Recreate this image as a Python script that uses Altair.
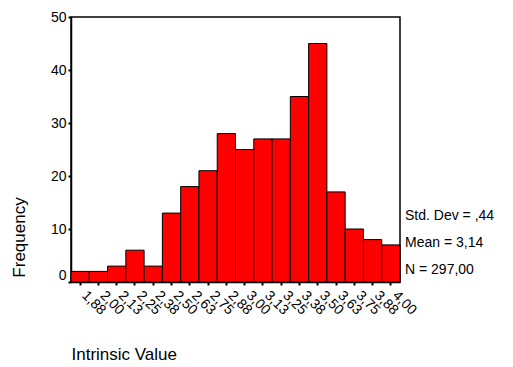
import altair as alt
import pandas as pd

bins = ["1,88", "2,00", "2,13", "2,25", "2,38", "2,50", "2,63", "2,75", "2,88",
        "3,00", "3,13", "3,25", "3,38", "3,50", "3,63", "3,75", "3,88", "4,00"]
counts = [2, 2, 3, 6, 3, 13, 18, 21, 28, 25, 27, 27, 35, 45, 17, 10, 8, 7]
stats = ["Std. Dev = ,44", "Mean = 3,14", "N = 297,00"]

df = pd.DataFrame({"bin": bins, "count": counts})
FONT = "Liberation Sans"

bars = alt.Chart(df).mark_bar(color="#ff0000", stroke="black", strokeWidth=1).encode(
    x=alt.X("bin:N", sort=bins,
            scale=alt.Scale(paddingInner=0, paddingOuter=0),
            axis=alt.Axis(title="Intrinsic Value", labelAngle=45, labelAlign="left",
                          labelBaseline="middle", labelPadding=8, labelOffset=4,
                          labelFontSize=14, labelFont=FONT, labelColor="black",
                          tickSize=3, tickWidth=2, tickColor="black",
                          domainColor="black", domainWidth=1.5,
                          titleFont=FONT, titleFontSize=17, titleFontWeight="normal",
                          titleColor="black", titleAlign="left", titleAnchor="start",
                          titleX=0, titleY=72, titleBaseline="middle")),
    y=alt.Y("count:Q", scale=alt.Scale(domain=[0, 50], nice=False),
            axis=alt.Axis(title="Frequency", values=[0, 10, 20, 30, 40, 50], grid=False,
                          labelFontSize=14, labelFont=FONT, labelColor="black",
                          labelPadding=2,
                          labelOffset=alt.condition("datum.value == 0", alt.value(-7), alt.value(0)),
                          tickSize=3, tickWidth=2, tickColor="black",
                          domainColor="black", domainWidth=1.5,
                          titleFont=FONT, titleFontSize=17, titleFontWeight="normal",
                          titleColor="black", titleAngle=-90, titleAlign="center",
                          titleBaseline="middle", titleX=-52, titleY=220)),
)

stat_df = pd.DataFrame({"label": stats, "row": [0, 1, 2]})
text = alt.Chart(stat_df).mark_text(align="left", baseline="middle", font=FONT,
                                     fontSize=14, color="black").encode(
    x=alt.value(334),
    y=alt.Y("row:O", axis=None,
            scale=alt.Scale(range=[199, 253], padding=0, paddingOuter=0)),
    text="label:N",
)

chart = alt.layer(bars, text).resolve_scale(y="independent").properties(
    width=329, height=265,
    background="white",
    autosize=alt.AutoSizeParams(type="none"),
    padding={"left": 71, "top": 17, "right": 113, "bottom": 85},
).configure_view(stroke="black", strokeWidth=1.5)

chart.save("out.html", embed_options={"renderer": "svg", "actions": False})
